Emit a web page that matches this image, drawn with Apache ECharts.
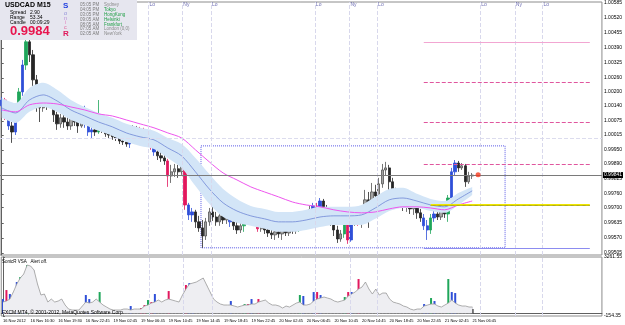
<!DOCTYPE html>
<html>
<head>
<meta charset="utf-8">
<script src="https://cdn.jsdelivr.net/npm/echarts@6/dist/echarts.min.js"></script>
<style>
html,body{margin:0;padding:0;background:#fff;}
#chart{width:625px;height:325px;}
</style>
</head>
<body>
<div id="chart"></div>
<script>
// USDCAD M15 (MT4 screenshot), 30 min candles
// [open, close, low, high]
var candles = [
[1.00140,1.00165,1.00114,1.00178],[1.00165,1.00101,1.00079,1.00174],[1.00101,1.00053,1.00036,1.00114],
[1.00053,1.00027,0.99980,1.00070],[1.00027,1.00114,1.00014,1.00131],[1.00114,1.00200,1.00101,1.00217],
[1.00200,1.00316,1.00183,1.00338],[1.00316,1.00416,1.00295,1.00433],[1.00416,1.00360,1.00329,1.00433],
[1.00360,1.00252,1.00226,1.00381],[1.00252,1.00165,1.00114,1.00273],[1.00165,1.00131,1.00070,1.00200],
[1.00131,1.00183,1.00114,1.00200],[1.00183,1.00148,1.00122,1.00196],[1.00148,1.00183,1.00131,1.00217],
[1.00183,1.00101,1.00070,1.00191],[1.00101,1.00062,1.00036,1.00114],[1.00062,1.00088,1.00045,1.00105],
[1.00088,1.00070,1.00045,1.00105],[1.00070,1.00053,1.00036,1.00096],[1.00053,1.00088,1.00036,1.00101],
[1.00088,1.00070,1.00053,1.00105],[1.00070,1.00053,1.00023,1.00101],[1.00053,1.00114,1.00045,1.00131],
[1.00114,1.00062,1.00045,1.00140],[1.00062,1.00027,1.00010,1.00070],[1.00027,1.00036,1.00001,1.00053],
[1.00036,1.00027,1.00010,1.00053],[1.00027,1.00088,1.00019,1.00165],[1.00088,1.00036,1.00023,1.00101],
[1.00036,1.00019,1.00006,1.00049],[1.00019,1.00014,1.00001,1.00032],[1.00014,1.00006,0.99993,1.00027],
[1.00006,1.00001,0.99988,1.00019],[1.00001,0.99988,0.99975,1.00014],[0.99988,0.99984,0.99971,1.00006],
[0.99984,0.99975,0.99963,0.99997],[0.99975,0.99993,0.99958,1.00010],[0.99993,1.00045,0.99984,1.00057],
[1.00045,1.00027,1.00010,1.00053],[1.00027,1.00036,1.00001,1.00049],[1.00036,0.99984,0.99967,1.00045],
[0.99984,1.00010,0.99971,1.00032],[1.00010,0.99967,0.99950,1.00036],[0.99967,0.99941,0.99924,0.99980],
[0.99941,0.99924,0.99906,0.99954],[0.99924,0.99915,0.99898,0.99941],[0.99915,0.99902,0.99885,0.99928],
[0.99902,0.99837,0.99790,0.99911],[0.99837,0.99855,0.99807,0.99885],[0.99855,0.99868,0.99833,0.99889],
[0.99868,0.99855,0.99829,0.99885],[0.99855,0.99881,0.99842,0.99906],[0.99881,0.99712,0.99691,0.99893],
[0.99712,0.99669,0.99647,0.99721],[0.99669,0.99682,0.99639,0.99699],[0.99682,0.99639,0.99613,0.99691],
[0.99639,0.99613,0.99596,0.99665],[0.99613,0.99578,0.99527,0.99647],[0.99578,0.99639,0.99561,0.99656],
[0.99639,0.99682,0.99622,0.99699],[0.99682,0.99660,0.99643,0.99704],[0.99660,0.99639,0.99622,0.99682],
[0.99639,0.99665,0.99622,0.99686],[0.99665,0.99647,0.99630,0.99682],[0.99647,0.99669,0.99630,0.99691],
[0.99669,0.99639,0.99617,0.99678],[0.99639,0.99622,0.99604,0.99656],[0.99622,0.99604,0.99587,0.99639],
[0.99604,0.99622,0.99591,0.99639],[0.99622,0.99665,0.99596,0.99678],[0.99665,0.99673,0.99643,0.99691],
[0.99673,0.99652,0.99635,0.99691],[0.99652,0.99669,0.99635,0.99686],[0.99669,0.99609,0.99596,0.99678],
[0.99609,0.99630,0.99596,0.99652],[0.99630,0.99604,0.99587,0.99647],[0.99604,0.99591,0.99574,0.99622],
[0.99591,0.99583,0.99565,0.99609],[0.99583,0.99596,0.99561,0.99609],[0.99596,0.99587,0.99570,0.99609],
[0.99587,0.99604,0.99561,0.99617],[0.99604,0.99591,0.99578,0.99617],[0.99591,0.99609,0.99578,0.99622],
[0.99609,0.99600,0.99587,0.99622],[0.99600,0.99617,0.99587,0.99630],[0.99617,0.99656,0.99596,0.99669],
[0.99656,0.99639,0.99622,0.99673],[0.99639,0.99669,0.99630,0.99682],[0.99669,0.99691,0.99652,0.99708],
[0.99691,0.99708,0.99665,0.99721],[0.99708,0.99691,0.99673,0.99721],[0.99691,0.99729,0.99678,0.99742],
[0.99729,0.99691,0.99665,0.99738],[0.99691,0.99673,0.99647,0.99712],[0.99673,0.99647,0.99622,0.99691],
[0.99647,0.99604,0.99578,0.99665],[0.99604,0.99565,0.99548,0.99622],[0.99565,0.99587,0.99553,0.99604],
[0.99587,0.99682,0.99570,0.99691],[0.99682,0.99561,0.99544,0.99691],[0.99561,0.99639,0.99553,0.99656],
[0.99639,0.99660,0.99622,0.99682],[0.99660,0.99639,0.99622,0.99682],[0.99639,0.99656,0.99613,0.99682],
[0.99656,0.99734,0.99630,0.99777],[0.99734,0.99704,0.99613,0.99768],[0.99704,0.99768,0.99682,0.99807],
[0.99768,0.99751,0.99712,0.99799],[0.99751,0.99803,0.99734,0.99829],[0.99803,0.99863,0.99786,0.99889],
[0.99863,0.99872,0.99837,0.99898],[0.99872,0.99812,0.99777,0.99885],[0.99812,0.99768,0.99751,0.99829],
[0.99768,0.99742,0.99725,0.99786],[0.99742,0.99717,0.99699,0.99755],[0.99717,0.99708,0.99686,0.99738],
[0.99708,0.99717,0.99682,0.99734],[0.99717,0.99695,0.99673,0.99729],[0.99695,0.99704,0.99669,0.99721],
[0.99704,0.99678,0.99652,0.99717],[0.99678,0.99656,0.99639,0.99695],[0.99656,0.99622,0.99604,0.99673],
[0.99622,0.99604,0.99561,0.99647],[0.99604,0.99656,0.99587,0.99673],[0.99656,0.99673,0.99639,0.99699],
[0.99673,0.99660,0.99647,0.99704],[0.99660,0.99686,0.99647,0.99708],[0.99686,0.99673,0.99656,0.99708],
[0.99673,0.99742,0.99639,0.99755],[0.99742,0.99855,0.99725,0.99872],[0.99855,0.99893,0.99837,0.99906],
[0.99893,0.99872,0.99855,0.99902],[0.99872,0.99881,0.99863,0.99893],[0.99881,0.99812,0.99790,0.99889],
[0.99812,0.99837,0.99803,0.99855],[0.99837,0.99841,0.99824,0.99850]
];

// SonicR VSA volume (grey histogram / line)
var volumeLine = [
654,712,828,1233,1697,2044,2275,2797,2739,2507,
1697,1060,1118,654,828,654,712,828,481,249,
191,191,191,423,654,596,654,828,654,481,
365,249,191,191,191,249,249,191,249,249,
249,423,481,596,654,770,654,770,828,770,
712,654,1060,1407,1697,1754,1812,1928,2044,1639,
1233,828,654,538,481,481,481,423,365,423,
481,481,538,538,654,712,770,596,481,481,
423,307,423,365,481,596,654,481,481,538,
712,828,886,944,886,828,712,654,712,770,
1002,1118,1233,1407,1523,1812,1407,1118,1407,1060,
1175,1175,828,654,596,538,423,365,249,191,
249,249,423,481,538,538,423,365,481,596,
770,596,481,423,423,365,365
];

// VSA signal bars: [bar index, colour code, volume]
var signals = [
[0,'b',828],[1,'r',1349],[2,'b',1118],[4,'b',1812],[5,'g',2102],[6,'b',2160],[7,'g',2797],
[24,'b',1060],[25,'b',828],[26,'b',538],[28,'g',1233],
[37,'b',423],[40,'r',307],[41,'r',481],[42,'g',770],[43,'r',654],[44,'b',1118],
[48,'r',1291],[53,'r',1639],[54,'b',1754],[55,'b',1639],
[66,'b',712],[70,'g',538],[71,'r',538],[72,'b',828],[74,'r',828],
[86,'g',1060],[87,'b',1002],[90,'b',1233],[91,'r',1233],[92,'b',1060],
[99,'g',944],[100,'r',1233],[101,'b',1233],[103,'r',1986],
[122,'b',538],[123,'b',481],[124,'g',886],[125,'b',712],
[129,'g',1986],[130,'b',1233],[131,'b',1175],
[136,'k',249]
];

// indicator lines, sampled every 4 bars
var bandIdx = [0,4,8,12,16,20,24,28,32,36,40,44,48,52,56,60,64,68,72,76,80,84,88,92,96,100,104,108,112,116,120,124,128,132,136];
var bandUpper = [1.00174,1.00152,1.00217,1.00239,1.00209,1.00165,1.00135,1.00109,1.00088,1.00062,1.00045,1.00032,1.00001,0.99975,0.99915,0.99846,0.99781,0.99738,0.99708,0.99695,0.99682,0.99682,0.99691,0.99704,0.99704,0.99704,0.99712,0.99747,0.99781,0.99786,0.99760,0.99738,0.99729,0.99764,0.99790];
var bandLower = [1.00088,1.00066,1.00114,1.00135,1.00114,1.00079,1.00057,1.00032,1.00010,0.99984,0.99967,0.99954,0.99915,0.99872,0.99794,0.99717,0.99660,0.99635,0.99622,0.99609,0.99596,0.99596,0.99604,0.99617,0.99626,0.99626,0.99626,0.99652,0.99686,0.99699,0.99699,0.99686,0.99678,0.99712,0.99755];
var bandMid = [1.00131,1.00109,1.00165,1.00187,1.00161,1.00122,1.00096,1.00070,1.00049,1.00023,1.00006,0.99993,0.99958,0.99924,0.99855,0.99781,0.99721,0.99686,0.99665,0.99652,0.99639,0.99639,0.99647,0.99660,0.99665,0.99665,0.99669,0.99699,0.99734,0.99742,0.99729,0.99712,0.99704,0.99738,0.99773];
var maSlow = [1.00122,1.00114,1.00144,1.00152,1.00148,1.00135,1.00122,1.00105,1.00096,1.00079,1.00062,1.00045,1.00023,1.00001,0.99950,0.99898,0.99850,0.99820,0.99790,0.99768,0.99747,0.99725,0.99712,0.99704,0.99691,0.99682,0.99678,0.99682,0.99695,0.99704,0.99704,0.99699,0.99691,0.99712,0.99729];

var priceTicks = [1.00585,1.00520,1.00455,1.00390,1.00325,1.00260,1.00200,1.00140,1.00075,1.00015,0.99950,0.99890,0.99825,0.99760,0.99700,0.99635,0.99570,0.99505];
var volTicks = [3261.55,-154.35];
var timeLabels = ['16 Nov 2012','16 Nov 16:30','16 Nov 19:30','16 Nov 22:45','19 Nov 02:45','19 Nov 06:45','19 Nov 10:45','19 Nov 14:45','19 Nov 18:45','19 Nov 22:45','20 Nov 02:45','20 Nov 06:45','20 Nov 10:45','20 Nov 14:45','20 Nov 18:45','20 Nov 22:45','21 Nov 02:45','21 Nov 06:45'];

// session open/close markers (bar position) and names
var sessionPos = [42.4,52.2,60.5,90.5,100.5,108.5,138.3,148.3,156.3];
var sessionNames = ['Lo','Ny','Lo','Lo','Ny','Lo','Lo','Ny','Lo'];

// drawn objects
var bidPrice = 0.99841;
var parity = 1.00000;
var boxRange = [57.6, 145.5, 0.99967, 0.99527]; // from bar, to bar, high, low
var pinkLevels = [1.00416, 1.00243, 1.00070, 0.99889];
var yellowLevel = 0.99712;
var blueLevel = 0.99527;
var lastDot = [137.7, 0.99842];

var clockTimes = ['05:05 PM','04:05 PM','03:05 PM','09:05 AM','08:05 AM','07:05 AM','02:05 AM'];
var clockCities = ['Sydney','Tokyo','HongKong','Helsinki','Frankfurt','London (0,0)','NewYork'];
var clockOpen = [false,true,true,true,true,false,false];

var nCats = 174;
var cats = [];
for (var i = 0; i < nCats; i++) cats.push(String(i));

var colorMap = {b: '#2f4fd8', r: '#e2185e', g: '#1fa65a', k: '#000000'};
var sigByIdx = {};
signals.forEach(function (s) { sigByIdx[s[0]] = s; });

var candleData = candles.map(function (c, i) {
    var s = sigByIdx[i];
    if (s && s[1] !== 'k') {
        var col = colorMap[s[1]];
        return {value: c, itemStyle: {color: col, color0: col, borderColor: col, borderColor0: col}};
    }
    return c;
});

function pairs(idx, vals) {
    return idx.map(function (x, i) { return [x, vals[i]]; });
}

var FONT = '"Liberation Sans", Arial, sans-serif';
var labelEvery = function (index) { return index % 8 === 0 && index / 8 < timeLabels.length; };

var pinkSegs = pinkLevels.map(function (p, i) {
    return [{coord: [122, p], lineStyle: {color: i === 0 ? '#f2a6d2' : '#e0569e', type: i === 0 ? 'solid' : 'dashed', width: 1}},
            {coord: [170, p]}];
});

var graphics = [
    {type: 'rect', shape: {x: 0, y: 0, width: 137, height: 40}, style: {fill: '#e6e6ef'}, z: 100},
    {type: 'text', x: 5, y: 5.5, style: {text: 'USDCAD', fill: '#000', font: 'bold 7px ' + FONT, verticalAlign: 'middle'}, z: 101},
    {type: 'text', x: 37, y: 5.5, style: {text: 'M15', fill: '#000', font: 'bold 7px ' + FONT, verticalAlign: 'middle'}, z: 101},
    {type: 'text', x: 10, y: 12.5, style: {text: 'Spread', fill: '#000', font: '5px ' + FONT, verticalAlign: 'middle'}, z: 101},
    {type: 'text', x: 30, y: 12.5, style: {text: '2.90', fill: '#000', font: '5px ' + FONT, verticalAlign: 'middle'}, z: 101},
    {type: 'text', x: 10, y: 17.5, style: {text: 'Range', fill: '#000', font: '5px ' + FONT, verticalAlign: 'middle'}, z: 101},
    {type: 'text', x: 30, y: 17.5, style: {text: '53.34', fill: '#000', font: '5px ' + FONT, verticalAlign: 'middle'}, z: 101},
    {type: 'text', x: 10, y: 22.5, style: {text: 'Candle', fill: '#000', font: '5px ' + FONT, verticalAlign: 'middle'}, z: 101},
    {type: 'text', x: 30, y: 22.5, style: {text: '00:09:29', fill: '#000', font: '5px ' + FONT, verticalAlign: 'middle'}, z: 101},
    {type: 'text', x: 10, y: 31.5, style: {text: '0.9984', fill: '#e8154e', font: 'bold 13px ' + FONT, verticalAlign: 'middle'}, z: 101},
    {type: 'text', x: 63, y: 6, style: {text: 'S', fill: '#1e3de0', font: 'bold 8px ' + FONT, verticalAlign: 'middle'}, z: 101},
    {type: 'text', x: 64, y: 13.5, style: {text: 'o', fill: '#8a8ad6', font: '5.5px ' + FONT, verticalAlign: 'middle'}, z: 101},
    {type: 'text', x: 64, y: 18.5, style: {text: 'n', fill: '#b48ad6', font: '5.5px ' + FONT, verticalAlign: 'middle'}, z: 101},
    {type: 'text', x: 65, y: 22.5, style: {text: 'i', fill: '#e07ab8', font: '5.5px ' + FONT, verticalAlign: 'middle'}, z: 101},
    {type: 'text', x: 64, y: 27.5, style: {text: 'c', fill: '#e06098', font: '5.5px ' + FONT, verticalAlign: 'middle'}, z: 101},
    {type: 'text', x: 63, y: 33.5, style: {text: 'R', fill: '#e0185a', font: 'bold 8px ' + FONT, verticalAlign: 'middle'}, z: 101},
    {type: 'text', x: 2, y: 262, style: {text: 'SonicR VSA   Alert off.', fill: '#000', font: '4.5px ' + FONT, verticalAlign: 'middle'}, z: 101},
    {type: 'text', x: 2, y: 312.5, style: {text: 'FXCM MT4, \u00a9 2001-2012, MetaQuotes Software Corp.', fill: '#000', font: '5px ' + FONT, verticalAlign: 'middle'}, z: 101}
];
var clockY = [5, 10, 15, 20, 24.5, 29, 34];
clockTimes.forEach(function (t, i) {
    graphics.push({type: 'text', x: 80, y: clockY[i], style: {text: t, fill: '#7a7a7a', font: '4.5px ' + FONT, verticalAlign: 'middle'}, z: 101});
    graphics.push({type: 'text', x: 104, y: clockY[i], style: {text: clockCities[i], fill: clockOpen[i] ? '#1e9e44' : '#8a8a8a', font: '4.5px ' + FONT, verticalAlign: 'middle'}, z: 101});
});

var chart = echarts.init(document.getElementById('chart'));
chart.setOption({
    animation: false,
    backgroundColor: '#fff',
    graphic: graphics,
    grid: [
        {left: 0, right: 17, top: 2, height: 253, show: true, borderColor: '#8c8c8c', borderWidth: 1},
        {left: 0, right: 17, top: 257, height: 59, show: true, borderColor: '#8c8c8c', borderWidth: 1}
    ],
    xAxis: [
        {type: 'category', gridIndex: 0, data: cats, boundaryGap: true,
         axisLine: {show: false}, axisTick: {show: false}, axisLabel: {show: false}},
        {type: 'value', gridIndex: 0, min: -0.5, max: nCats - 0.5, show: false},
        {type: 'category', gridIndex: 1, data: cats, boundaryGap: true,
         axisLine: {lineStyle: {color: '#606060'}},
         axisTick: {interval: labelEvery, alignWithLabel: true, length: 2, lineStyle: {color: '#606060'}},
         axisLabel: {interval: labelEvery, align: 'left', margin: 3, fontSize: 4, color: '#000', fontFamily: FONT,
                     formatter: function (v, i) { return timeLabels[i / 8] || ''; }}},
        {type: 'value', gridIndex: 1, min: -0.5, max: nCats - 0.5, show: false}
    ],
    yAxis: [
        {type: 'value', gridIndex: 0, position: 'right', min: 0.99496, max: 1.00588,
         splitLine: {show: false},
         axisLine: {show: true, lineStyle: {color: '#606060'}},
         axisTick: {show: true, customValues: priceTicks, length: 2, lineStyle: {color: '#606060'}},
         axisLabel: {customValues: priceTicks, margin: 2, fontSize: 5, color: '#000', fontFamily: FONT,
                     formatter: function (v) { return v.toFixed(5); }}},
        {type: 'value', gridIndex: 1, position: 'right', min: -154.35, max: 3261.55,
         splitLine: {show: false},
         axisLine: {show: true, lineStyle: {color: '#606060'}},
         axisTick: {show: true, customValues: volTicks, length: 2, lineStyle: {color: '#606060'}},
         axisLabel: {customValues: volTicks, margin: 2, fontSize: 5, color: '#000', fontFamily: FONT,
                     formatter: function (v) { return v.toFixed(2); }}}
    ],
    series: [
        {name: 'sessions', type: 'scatter', xAxisIndex: 1, yAxisIndex: 0, silent: true,
         symbolSize: 0.1, itemStyle: {color: 'rgba(0,0,0,0)'},
         data: sessionPos.map(function (p, i) { return {value: [p, 1.00578], label: {formatter: sessionNames[i]}}; }),
         label: {show: true, position: 'right', distance: 1, fontSize: 5, color: '#4a4aa0', fontFamily: FONT},
         markLine: {silent: true, symbol: 'none', precision: 5, label: {show: false},
                    data: [{yAxis: parity, lineStyle: {color: '#dcdcee', type: 'dashed', width: 1}}]
                        .concat(sessionPos.map(function (p) {
                            return {xAxis: p, lineStyle: {color: '#d8d8ec', type: 'dashed', width: 1}};
                        }))}},
        {name: 'bandLow', type: 'line', xAxisIndex: 0, yAxisIndex: 0, stack: 'band', smooth: 0.3,
         symbol: 'none', silent: true, lineStyle: {opacity: 0}, data: pairs(bandIdx, bandLower)},
        {name: 'bandFill', type: 'line', xAxisIndex: 0, yAxisIndex: 0, stack: 'band', smooth: 0.3,
         symbol: 'none', silent: true, lineStyle: {opacity: 0}, areaStyle: {color: '#d3e5f7', opacity: 1},
         data: pairs(bandIdx, bandUpper.map(function (u, i) { return u - bandLower[i]; }))},
        {name: 'mid', type: 'line', xAxisIndex: 0, yAxisIndex: 0, smooth: 0.3, symbol: 'none', silent: true,
         lineStyle: {color: '#6f86d6', width: 0.8}, data: pairs(bandIdx, bandMid)},
        {name: 'ma', type: 'line', xAxisIndex: 0, yAxisIndex: 0, smooth: 0.3, symbol: 'none', silent: true,
         lineStyle: {color: '#ee55ee', width: 1}, data: pairs(bandIdx, maSlow)},
        {name: 'bid', type: 'scatter', xAxisIndex: 1, yAxisIndex: 0, silent: true, data: [],
         markLine: {silent: true, symbol: 'none', precision: 5,
                    data: [{yAxis: bidPrice, lineStyle: {color: '#7a7a7a', type: 'solid', width: 1},
                            label: {show: true, position: 'end', distance: 1, formatter: bidPrice.toFixed(5),
                                    backgroundColor: '#000', color: '#fff', fontSize: 5, padding: [1, 1, 0, 1], fontFamily: FONT}}]}},
        {name: 'USDCAD', type: 'candlestick', xAxisIndex: 0, yAxisIndex: 0, barWidth: 2.8,
         itemStyle: {color: '#a4a4a4', color0: '#262626', borderColor: '#545454', borderColor0: '#262626', borderWidth: 0.8},
         data: candleData},
        {name: 'objects', type: 'scatter', xAxisIndex: 1, yAxisIndex: 0, silent: true, z: 5,
         symbolSize: 5, itemStyle: {color: '#f23a1e'}, data: [lastDot],
         markArea: {silent: true,
                    data: [[{coord: [boxRange[0], boxRange[2]],
                             itemStyle: {color: 'rgba(0,0,0,0)', borderColor: '#5b5be6', borderWidth: 1, borderType: 'dotted'}},
                            {coord: [boxRange[1], boxRange[3]]}]]},
         markLine: {silent: true, symbol: 'none', precision: 5, label: {show: false},
                    data: pinkSegs.concat([
                        [{coord: [124, yellowLevel], lineStyle: {color: '#eee600', width: 2, type: 'solid'}}, {coord: [170, yellowLevel]}],
                        [{coord: [124, yellowLevel], lineStyle: {color: '#444', width: 0.6, type: 'dotted'}}, {coord: [170, yellowLevel]}],
                        [{coord: [122, blueLevel], lineStyle: {color: '#8c8cf0', width: 1, type: 'solid'}}, {coord: [170, blueLevel]}]
                    ])}},
        {name: 'volSessions', type: 'scatter', xAxisIndex: 3, yAxisIndex: 1, silent: true, data: [],
         markLine: {silent: true, symbol: 'none', label: {show: false},
                    lineStyle: {color: '#d8d8ec', type: 'dashed', width: 1},
                    data: sessionPos.map(function (p) { return {xAxis: p}; })}},
        {name: 'volume', type: 'line', xAxisIndex: 2, yAxisIndex: 1, symbol: 'none', silent: true,
         lineStyle: {color: '#9a9a9a', width: 0.8}, areaStyle: {color: '#eeeef2', opacity: 1},
         data: volumeLine},
        {name: 'volBars', type: 'bar', xAxisIndex: 2, yAxisIndex: 1, silent: true, barWidth: 1,
         itemStyle: {color: '#cdced6'}, data: volumeLine},
        {name: 'volSignals', type: 'bar', xAxisIndex: 3, yAxisIndex: 1, silent: true, barWidth: 2,
         data: signals.map(function (s) { return {value: [s[0], s[2]], itemStyle: {color: colorMap[s[1]]}}; })}
    ]
});
</script>
</body>
</html>
